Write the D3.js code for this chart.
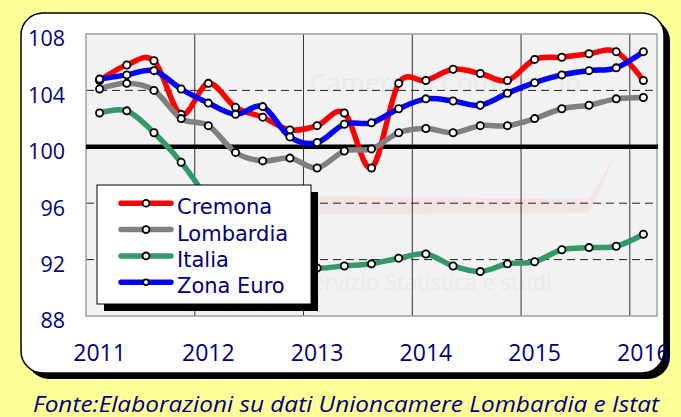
<!DOCTYPE html>
<html>
<head>
<meta charset="utf-8">
<script src="https://cdn.jsdelivr.net/npm/d3@7"></script>
<style>
  html, body { margin: 0; padding: 0; background: #FFFF99; }
  svg { display: block; }
</style>
</head>
<body>
<svg id="chart" width="681" height="417"></svg>
<script>
// ---- data ----
const quarters = ["2011Q1","2011Q2","2011Q3","2011Q4","2012Q1","2012Q2","2012Q3","2012Q4",
  "2013Q1","2013Q2","2013Q3","2013Q4","2014Q1","2014Q2","2014Q3","2014Q4",
  "2015Q1","2015Q2","2015Q3","2015Q4","2016Q1"];
const yearLabels = ["2011","2012","2013","2014","2015","2016"];
const yTicks = [88, 92, 96, 100, 104, 108];
const cremona   = [104.7,105.8,106.1,102.3,104.5,102.8,102.1,101.2,101.5,102.4,98.5,104.5,104.7,105.5,105.2,104.7,106.2,106.35,106.6,106.75,104.7];
const lombardia = [104.1,104.5,104.0,102.0,101.5,99.6,99.0,99.2,98.5,99.7,99.85,101.0,101.3,101.0,101.5,101.5,102.0,102.7,102.95,103.4,103.5];
const italia    = [102.4,102.55,101.0,98.9,96.3,94.1,92.6,91.7,91.4,91.55,91.7,92.1,92.4,91.55,91.15,91.7,91.85,92.7,92.85,92.95,93.8];
const zonaEuro  = [104.8,105.1,105.4,104.1,103.1,102.3,102.85,100.7,100.3,101.6,101.7,102.7,103.4,103.25,102.95,103.8,104.55,105.1,105.4,105.6,106.75];
const seriesNames = ["Cremona","Lombardia","Italia","Zona Euro"];
const seriesColors = ["#FF0000","#808080","#339966","#0000FF"];
const sourceText = "Fonte:Elaborazioni su dati Unioncamere Lombardia e Istat";

const seriesData = [cremona, lombardia, italia, zonaEuro];

const svg = d3.select("#chart");
const navy = "#000080";

// ---- frame ----
const box = {x: 21, y: 13, w: 643, h: 360, r: 22};
svg.append("rect").attr("x", box.x + 6).attr("y", box.y + 6).attr("width", box.w).attr("height", box.h)
  .attr("rx", box.r).attr("fill", "#000");
svg.append("rect").attr("x", box.x).attr("y", box.y).attr("width", box.w).attr("height", box.h)
  .attr("rx", box.r).attr("fill", "#fff").attr("stroke", "#000").attr("stroke-width", 1.5);

// ---- plot ----
const plot = {left: 86, top: 34, right: 657, bottom: 316};
const x = d3.scaleBand().domain(quarters).range([plot.left, plot.right]).padding(0);
const xc = q => x(q) + x.bandwidth() / 2;
const y = d3.scaleLinear().domain([88, 108]).range([plot.bottom, plot.top]);

svg.append("rect").attr("x", plot.left).attr("y", plot.top)
  .attr("width", plot.right - plot.left).attr("height", plot.bottom - plot.top)
  .attr("fill", "#F2F2F2");

// faint watermark
const wm = svg.append("g").attr("opacity", 0.55);
wm.append("path")
  .attr("d", `M${xc("2013Q1")},${y(95.2)} L${xc("2015Q3")},${y(95.3)} L${xc("2015Q4")},${y(99.5)} L${xc("2015Q3")},${y(96.3)} L${xc("2013Q1")},${y(96.5)} Z`)
  .attr("fill", "#F4DADA");
wm.append("text").attr("x", 310).attr("y", 92).attr("font-family", "Open Sans").attr("font-size", 26)
  .attr("fill", "#E2E2E2").text("Camera di Commercio");
wm.append("text").attr("x", 300).attr("y", 290).attr("font-family", "Open Sans").attr("font-size", 22)
  .attr("fill", "#E2E2E2").text("Servizio Statistica e studi");

// vertical gridlines every 4 quarters (category boundaries)
const vGrid = quarters.filter((q, i) => i > 0 && i % 4 === 0);
svg.append("g").selectAll("line").data(vGrid).join("line")
  .attr("x1", q => x(q)).attr("x2", q => x(q))
  .attr("y1", plot.top).attr("y2", plot.bottom)
  .attr("stroke", "#333").attr("stroke-width", 1);

// horizontal dashed gridlines
svg.append("g").selectAll("line").data(yTicks.filter(v => v !== 88 && v !== 100 && v !== 108)).join("line")
  .attr("x1", plot.left).attr("x2", plot.right)
  .attr("y1", d => y(d)).attr("y2", d => y(d))
  .attr("stroke", "#222").attr("stroke-width", 1).attr("stroke-dasharray", "8,5");

// plot border
svg.append("rect").attr("x", plot.left).attr("y", plot.top)
  .attr("width", plot.right - plot.left).attr("height", plot.bottom - plot.top)
  .attr("fill", "none").attr("stroke", "#A0A0A0").attr("stroke-width", 1.5);

// base line 100
svg.append("line").attr("x1", plot.left).attr("x2", plot.right + 1)
  .attr("y1", y(100)).attr("y2", y(100)).attr("stroke", "#000").attr("stroke-width", 4.5);

// y axis labels
const yAxis = d3.axisLeft(y).tickValues(yTicks).tickSize(0).tickPadding(0).tickFormat(d3.format("d"));
const yg = svg.append("g").attr("transform", "translate(65,0)").call(yAxis);
yg.select(".domain").remove();
yg.selectAll("text").attr("font-family", "Open Sans, Calibri, sans-serif").attr("font-size", 21.5)
  .attr("fill", navy).attr("dy", "0.55em").attr("text-anchor", "end");

// x axis labels (at Q1 of each year)
const xAxis = d3.axisBottom(x).tickValues(yearLabels.map(yr => yr + "Q1")).tickSize(0).tickPadding(0)
  .tickFormat(q => q.slice(0, 4));
const xg = svg.append("g").attr("transform", "translate(0,361)").call(xAxis);
xg.select(".domain").remove();
xg.selectAll("text").attr("font-family", "Open Sans, Calibri, sans-serif").attr("font-size", 23)
  .attr("fill", navy).attr("dy", 0).attr("y", 0);

// ---- lines ----
const line = d3.line().x((d, i) => xc(quarters[i])).y(d => y(d)).curve(d3.curveCatmullRom.alpha(0));
seriesData.forEach((s, k) => {
  const g = svg.append("g");
  g.append("path").attr("d", line(s)).attr("fill", "none").attr("stroke", seriesColors[k])
    .attr("stroke-width", 5.5).attr("stroke-linejoin", "round").attr("stroke-linecap", "round");
  g.selectAll("circle").data(s).join("circle")
    .attr("cx", (d, i) => xc(quarters[i])).attr("cy", d => y(d)).attr("r", 3.6)
    .attr("fill", "#fff").attr("stroke", "#000").attr("stroke-width", 1.8);
});

// ---- legend ----
const lg = {x: 97, y: 185, w: 214, h: 119};
svg.append("rect").attr("x", lg.x + 7).attr("y", lg.y + 7).attr("width", lg.w).attr("height", lg.h).attr("fill", "#000");
svg.append("rect").attr("x", lg.x).attr("y", lg.y).attr("width", lg.w).attr("height", lg.h)
  .attr("fill", "#fff").attr("stroke", "#000").attr("stroke-width", 1);
seriesNames.forEach((name, k) => {
  const ly = 203.3 + k * 26.3;
  svg.append("line").attr("x1", 121).attr("x2", 171).attr("y1", ly).attr("y2", ly)
    .attr("stroke", seriesColors[k]).attr("stroke-width", 5.5).attr("stroke-linecap", "round");
  svg.append("circle").attr("cx", 146).attr("cy", ly).attr("r", k === 3 ? 2.8 : 3.4)
    .attr("fill", "#fff").attr("stroke", "#000").attr("stroke-width", 1.8);
  svg.append("text").attr("x", 177).attr("y", ly + 11).attr("font-family", "DejaVu Sans")
    .attr("font-size", 21).attr("fill", navy).text(name);
});

// ---- source ----
svg.append("text").attr("x", 33).attr("y", 411.5).attr("font-family", "Open Sans, Calibri, sans-serif")
  .attr("font-style", "italic").attr("font-size", 21).attr("fill", navy)
  .attr("textLength", 626).attr("lengthAdjust", "spacingAndGlyphs").text(sourceText);
</script>
</body>
</html>
